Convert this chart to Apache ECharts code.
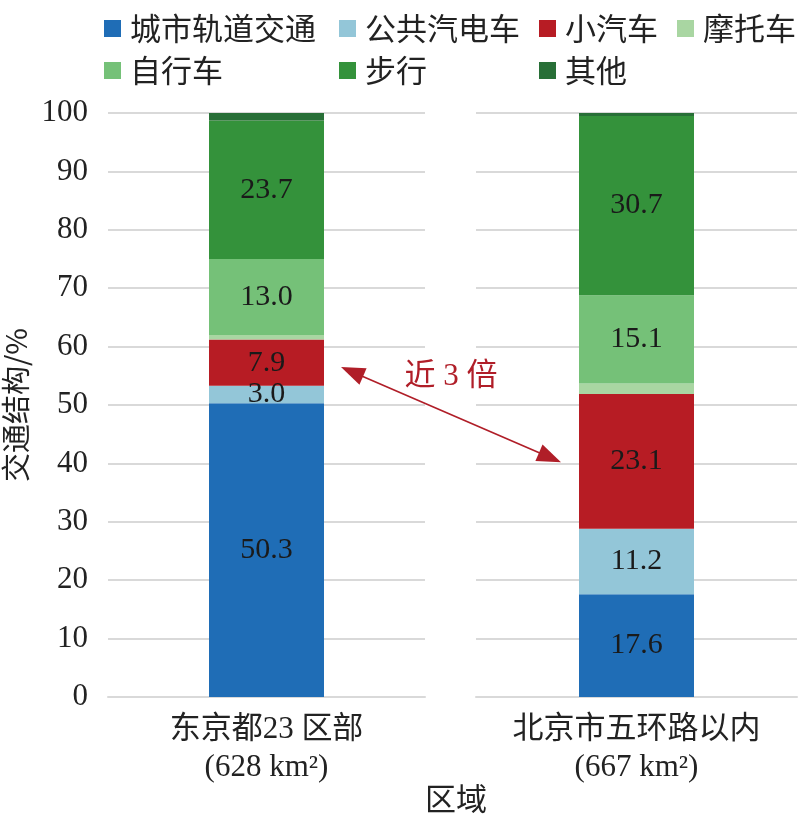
<!DOCTYPE html>
<html><head><meta charset="utf-8">
<script src="https://cdn.jsdelivr.net/npm/echarts@6/dist/echarts.min.js"></script>
<style>html,body{margin:0;padding:0;background:#fff}#c{width:805px;height:822px}</style>
</head><body><div id="c"></div>
<script>
const categories = ['东京都23 区部\n(628 km²)', '北京市五环路以内\n(667 km²)'];
const modes = ['城市轨道交通', '公共汽电车', '小汽车', '摩托车', '自行车', '步行', '其他'];
const tokyoShare = [50.3, 3.0, 7.9, 0.8, 13.0, 23.7, 1.3];
const beijingShare = [17.6, 11.2, 23.1, 1.8, 15.1, 30.7, 0.5];
const modeColors = ['#1f6db6', '#93c6d8', '#b71c24', '#a9d6a2', '#75c178', '#34923b', '#286f37'];
const yTicks = { min: 0, max: 100, interval: 10 };
const annotationText = '近 3 倍';
const arrowFrom = { cat: 0, value: 56.5 };
const arrowTo = { cat: 1, value: 40.2 };

const FONT = "'Liberation Serif', 'Noto Sans CJK SC', serif";
const CJK = "'Noto Sans CJK SC', 'Liberation Serif', sans-serif";
const BAR_W = 115;
const chart = echarts.init(document.getElementById('c'), null, { renderer: 'canvas' });

const shares = [tokyoShare, beijingShare];
const grids = [
  { left: 106, right: 380, top: 113, bottom: 125 },
  { left: 476, right: 8, top: 113, bottom: 125 }
];
const xAxes = grids.map((g, i) => ({
  type: 'category', gridIndex: i, data: [categories[i]],
  axisLine: { lineStyle: { color: '#d9d9d9', width: 2 } },
  axisTick: { show: false },
  axisLabel: { fontFamily: FONT, fontSize: 31, color: '#222', lineHeight: 38, margin: 14 }
}));
const yAxes = grids.map((g, i) => ({
  type: 'value', gridIndex: i, min: yTicks.min, max: yTicks.max, interval: yTicks.interval,
  axisLine: { show: false }, axisTick: { show: false },
  splitLine: { lineStyle: { color: '#d9d9d9', width: 2 } },
  axisLabel: { show: i === 0, fontFamily: FONT, fontSize: 31, color: '#222', margin: 20 },
  name: i === 0 ? '交通结构/%' : '', nameLocation: 'middle', nameGap: 78, nameRotate: 90,
  nameTextStyle: { fontFamily: CJK, fontSize: 29, color: '#222' }
}));
const series = [];
shares.forEach((arr, gi) => {
  modes.forEach((m, mi) => {
    series.push({
      name: m, type: 'bar', stack: 'g' + gi, xAxisIndex: gi, yAxisIndex: gi,
      barWidth: BAR_W, data: [arr[mi]],
      itemStyle: { color: modeColors[mi] },
      label: {
        show: arr[mi] >= 3, position: 'inside', fontFamily: FONT, fontSize: 30, color: '#1a1a1a',
        formatter: p => p.value.toFixed(1)
      }
    });
  });
});
const legendCols = [[0, 4], [1, 5], [2, 6], [3]];
const legendLefts = [104, 339, 539, 677];
const legends = legendCols.map((col, ci) => ({
  orient: 'vertical', left: legendLefts[ci], top: 11, padding: 0, itemWidth: 17, itemHeight: 17, itemGap: 7,
  icon: 'rect', data: col.map(k => modes[k]),
  textStyle: { fontFamily: CJK, fontSize: 31, color: '#222', lineHeight: 35, padding: [0, 0, 0, 4] }
}));

chart.setOption({
  animation: false,
  color: modeColors,
  title: { text: '区域', left: 451, textAlign: 'center', top: 778,
    textStyle: { fontFamily: CJK, fontSize: 31, fontWeight: 'normal', color: '#222' } },
  legend: legends,
  grid: grids,
  xAxis: xAxes,
  yAxis: yAxes,
  series: series
});

function drawArrow() {
  const p0 = chart.convertToPixel({ xAxisIndex: arrowFrom.cat, yAxisIndex: arrowFrom.cat }, [categories[arrowFrom.cat], arrowFrom.value]);
  const p1 = chart.convertToPixel({ xAxisIndex: arrowTo.cat, yAxisIndex: arrowTo.cat }, [categories[arrowTo.cat], arrowTo.value]);
  const a = [p0[0] + BAR_W / 2 + 17, p0[1]];
  const b = [p1[0] - BAR_W / 2 - 18, p1[1]];
  const dx = b[0] - a[0], dy = b[1] - a[1];
  const L = Math.sqrt(dx * dx + dy * dy), ux = dx / L, uy = dy / L;
  const hl = 24, hw = 9;
  const head = (tip, dir) => {
    const bx = tip[0] - dir[0] * hl, by = tip[1] - dir[1] * hl;
    return [tip, [bx - dir[1] * hw, by + dir[0] * hw], [bx + dir[1] * hw, by - dir[0] * hw]];
  };
  const col = '#b01e28';
  chart.setOption({
    graphic: [
      { type: 'line', shape: { x1: a[0] + ux * 20, y1: a[1] + uy * 20, x2: b[0] - ux * 20, y2: b[1] - uy * 20 },
        style: { stroke: col, lineWidth: 1.6 } },
      { type: 'polygon', shape: { points: head(a, [-ux, -uy]) }, style: { fill: col } },
      { type: 'polygon', shape: { points: head(b, [ux, uy]) }, style: { fill: col } },
      { type: 'text', x: (a[0] + b[0]) / 2, y: (a[1] + b[1]) / 2 - 38,
        style: { text: annotationText, fill: col, fontFamily: FONT, fontSize: 31, align: 'center', verticalAlign: 'middle' } }
    ]
  });
}
drawArrow();
</script></body></html>
